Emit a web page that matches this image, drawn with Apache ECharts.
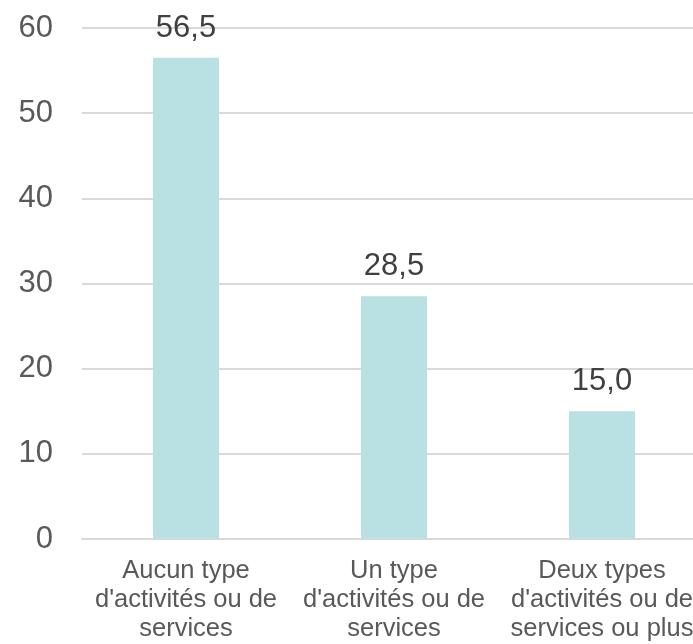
<!DOCTYPE html>
<html>
<head>
<meta charset="utf-8">
<script src="https://cdn.jsdelivr.net/npm/echarts@6/dist/echarts.min.js"></script>
<style>
  html, body { margin: 0; padding: 0; background: #fff; }
  #chart { width: 693px; height: 644px; }
</style>
</head>
<body>
<div id="chart"></div>
<script>
  var categories = [
    "Aucun type\nd'activités ou de\nservices",
    "Un type\nd'activités ou de\nservices",
    "Deux types\nd'activités ou de\nservices ou plus"
  ];
  var values = [56.5, 28.5, 15.0];

  var chart = echarts.init(document.getElementById("chart"));
  chart.setOption({
    animation: false,
    grid: {
      left: 82, width: 624, top: 28, bottom: 105,
      containLabel: false, outerBoundsMode: "none"
    },
    xAxis: {
      type: "category",
      data: categories,
      axisLine: { lineStyle: { color: "#d9d9d9", width: 2 } },
      axisTick: { show: false },
      axisLabel: {
        interval: 0,
        margin: 17,
        color: "#595959",
        fontFamily: "Liberation Sans",
        fontSize: 25.5,
        lineHeight: 29
      }
    },
    yAxis: {
      type: "value",
      min: 0,
      max: 60,
      interval: 10,
      axisLine: { show: false },
      axisTick: { show: false },
      splitLine: { lineStyle: { color: "#d9d9d9", width: 2 } },
      axisLabel: {
        margin: 29,
        color: "#595959",
        fontFamily: "Liberation Sans",
        fontSize: 31
      }
    },
    series: [{
      type: "bar",
      data: values,
      barWidth: 66,
      itemStyle: { color: "#b9e0e2" },
      label: {
        show: true,
        position: "top",
        distance: 14,
        color: "#404040",
        fontFamily: "Liberation Sans",
        fontSize: 31,
        formatter: function (p) { return p.value.toFixed(1).replace(".", ","); }
      }
    }]
  });
</script>
</body>
</html>
